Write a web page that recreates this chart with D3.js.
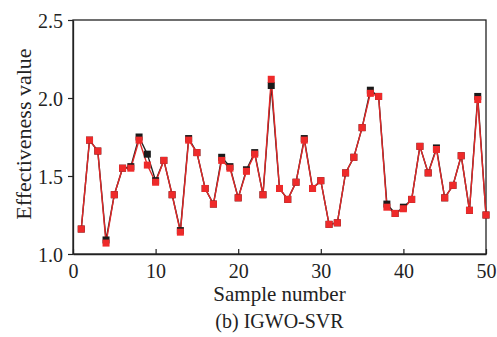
<!DOCTYPE html>
<html>
<head>
<meta charset="utf-8">
<script src="https://cdn.jsdelivr.net/npm/d3@7"></script>
<style>
  body { margin: 0; background: #fff; }
  text { font-family: "Liberation Serif", "Times New Roman", serif; fill: #222; }
</style>
</head>
<body>
<script>
// actual vs predicted effectiveness for samples 1..50
var samples = d3.range(1, 51);
var actual = [1.16, 1.73, 1.66, 1.09, 1.38, 1.55, 1.56, 1.75, 1.64, 1.47,
  1.60, 1.38, 1.15, 1.74, 1.65, 1.42, 1.32, 1.62, 1.56, 1.36,
  1.54, 1.65, 1.38, 2.08, 1.42, 1.35, 1.46, 1.74, 1.42, 1.47,
  1.19, 1.20, 1.52, 1.62, 1.81, 2.05, 2.01, 1.32, 1.26, 1.30,
  1.35, 1.69, 1.52, 1.68, 1.36, 1.44, 1.63, 1.28, 2.01, 1.25];
var predicted = [1.16, 1.73, 1.66, 1.07, 1.38, 1.55, 1.55, 1.73, 1.57, 1.46,
  1.60, 1.38, 1.14, 1.73, 1.65, 1.42, 1.32, 1.60, 1.55, 1.36,
  1.53, 1.64, 1.38, 2.12, 1.42, 1.35, 1.46, 1.73, 1.42, 1.47,
  1.19, 1.20, 1.52, 1.62, 1.81, 2.03, 2.01, 1.30, 1.26, 1.29,
  1.35, 1.69, 1.52, 1.67, 1.36, 1.44, 1.63, 1.28, 1.99, 1.25];
var xTicks = [0, 10, 20, 30, 40, 50];
var yTicks = [1.0, 1.5, 2.0, 2.5];

var W = 497, H = 337;
var pl = 73, pr = 486, pt = 20, pb = 254;

var svg = d3.select("body").append("svg")
    .attr("width", W).attr("height", H);

var x = d3.scaleLinear().domain([0, 50]).range([pl, pr]);
var y = d3.scaleLinear().domain([1.0, 2.5]).range([pb, pt]);

// frame
svg.append("rect")
    .attr("x", pl).attr("y", pt)
    .attr("width", pr - pl).attr("height", pb - pt)
    .attr("fill", "none").attr("stroke", "#222").attr("stroke-width", 1.3);

var xAxis = svg.append("g")
    .attr("transform", "translate(0," + pb + ")")
    .call(d3.axisBottom(x).tickValues(xTicks).tickSizeInner(-5).tickSizeOuter(0).tickPadding(10).tickFormat(d3.format("d")));
var yAxis = svg.append("g")
    .attr("transform", "translate(" + pl + ",0)")
    .call(d3.axisLeft(y).tickValues(yTicks).tickSizeInner(5).tickSizeOuter(0).tickPadding(5).tickFormat(d3.format(".1f")));

[xAxis, yAxis].forEach(function (g) {
  g.select(".domain").attr("stroke", "#222").attr("stroke-width", 1.3);
  g.selectAll(".tick line").attr("stroke", "#222").attr("stroke-width", 1.2);
  g.selectAll(".tick text").attr("fill", "#222")
      .style("font-family", "'Liberation Serif', serif").style("font-size", "20px");
});
xAxis.selectAll(".tick text").attr("dy", "0.71em");
yAxis.selectAll(".tick text").attr("dy", "0.35em");

var line = d3.line().x(function (d, i) { return x(samples[i]); }).y(function (d) { return y(d); });

svg.append("path").datum(actual)
    .attr("d", line).attr("fill", "none").attr("stroke", "#222").attr("stroke-width", 1.4);
svg.append("path").datum(predicted)
    .attr("d", line).attr("fill", "none").attr("stroke", "#e02828").attr("stroke-width", 1.4);

var s = 7;
svg.append("g").selectAll("rect").data(actual).enter().append("rect")
    .attr("x", function (d, i) { return x(samples[i]) - s / 2; })
    .attr("y", function (d) { return y(d) - s / 2; })
    .attr("width", s).attr("height", s)
    .attr("fill", "#1a1a1a");
svg.append("g").selectAll("rect").data(predicted).enter().append("rect")
    .attr("x", function (d, i) { return x(samples[i]) - s / 2; })
    .attr("y", function (d) { return y(d) - s / 2; })
    .attr("width", s).attr("height", s)
    .attr("fill", "#ee2a2a");

svg.append("text")
    .attr("x", (pl + pr) / 2).attr("y", 301)
    .attr("text-anchor", "middle").style("font-size", "21px")
    .text("Sample number");
svg.append("text")
    .attr("x", (pl + pr) / 2).attr("y", 328)
    .attr("text-anchor", "middle").style("font-size", "20px")
    .text("(b) IGWO-SVR");
svg.append("text")
    .attr("transform", "translate(31," + ((pt + pb) / 2 - 3) + ") rotate(-90)")
    .attr("text-anchor", "middle").style("font-size", "22px")
    .text("Effectiveness value");
</script>
</body>
</html>
